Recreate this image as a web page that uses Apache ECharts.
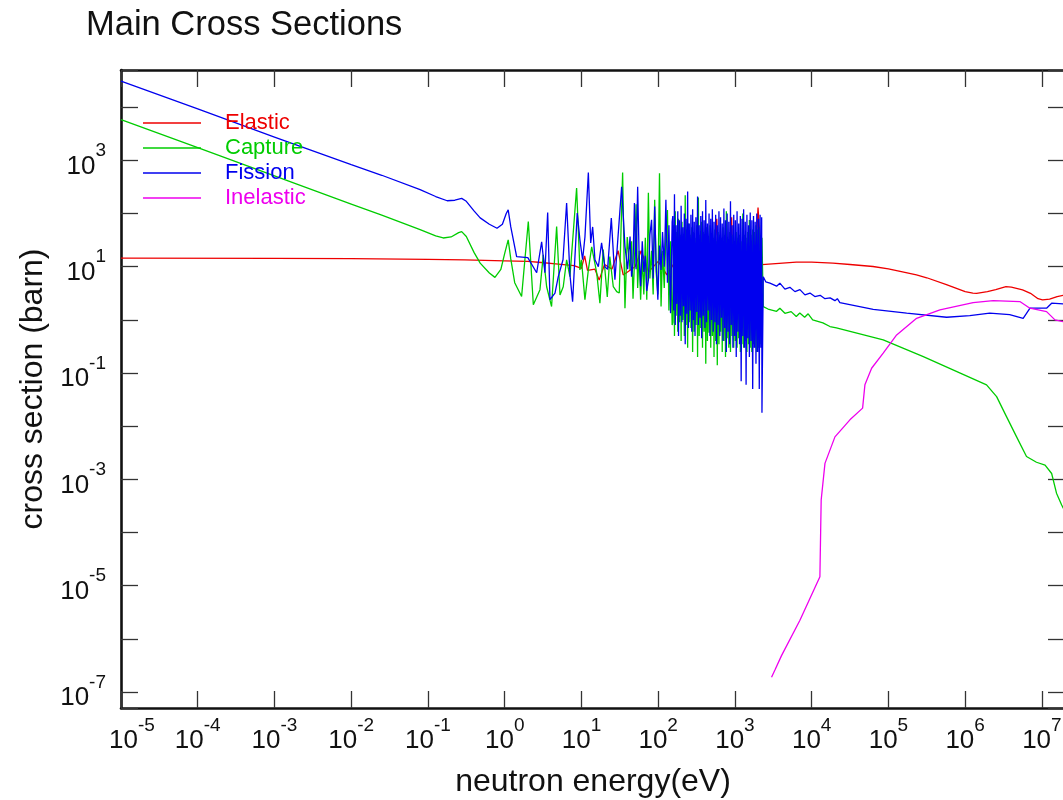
<!DOCTYPE html>
<html>
<head>
<meta charset="utf-8">
<title>Main Cross Sections</title>
<script src="https://cdn.jsdelivr.net/npm/echarts@6/dist/echarts.min.js"></script>
<style>
  html, body { margin: 0; padding: 0; background: #ffffff; }
  #main { width: 1063px; height: 800px; }
</style>
</head>
<body>
<div id="main"></div>
<script>
// energies in eV, cross sections in barn
var elasticE = [1e-5, 1e-3, 0.01, 0.1, 0.3, 1, 2, 3, 5, 8, 10, 11, 12, 15, 17, 20, 25, 30, 35, 50,
  60, 75, 100, 130, 180, 250, 330, 450, 560, 580, 600, 700, 880, 906, 930, 1200, 1500, 1900, 2000, 2100, 2250,
  2340, 6300, 10000, 18900, 31600, 63000, 1e5, 1.58e5, 2.32e5, 3.16e5, 5.7e5, 1e6, 1.26e6, 1.41e6, 1.95e6,
  2.5e6, 3.4e6, 4e6, 5.6e6, 7.1e6, 8.9e6, 1.02e7, 1.26e7, 1.58e7, 2e7];
var elasticXS = [14.5, 14.4, 14.2, 13.8, 13.5, 12.9, 12.6, 12.0, 11.2, 10.5, 9.3, 16, 8.5, 9, 5.6, 11, 9, 20, 7, 10,
  20, 8, 12.6, 7, 15, 9, 13, 8, 40, 80, 12, 10, 40, 85, 12, 10, 14, 30, 130, 40, 10.9,
  10.9, 12.2, 12.2, 11.7, 11.0, 10.1, 9.1, 7.9, 7.0, 6.2, 4.6, 3.4, 3.2, 3.15, 3.4,
  3.7, 4.24, 4.15, 3.67, 3.16, 2.5, 2.38, 2.45, 2.75, 2.95];

// thermal + first resonances, below 40 eV
var captureE = [1e-5, 1e-4, 1e-3, 0.01, 0.025, 0.079, 0.126, 0.158, 0.2, 0.251, 0.275, 0.316, 0.398, 0.479,
  0.631, 0.746, 0.891, 1.0, 1.11, 1.2, 1.35, 1.66, 2.03, 2.36, 2.88, 3.18, 3.52, 4.08, 4.75, 5.25, 5.79, 6.41,
  7.08, 8.65, 9.55, 10.0, 11.1, 12.3, 13.6, 15.8, 17.4, 19.2, 21.7, 23.4, 26.0, 28.8, 31.1, 34.4, 36.9, 39.5];
var captureXS = [5830, 1740, 513, 151, 93, 50, 38, 34.7, 36.3, 43.7, 45.7, 37, 18.6, 11.7,
  7.6, 6.3, 8.9, 17.8, 32, 14, 5, 2.75, 71, 1.92, 3.7, 16.7, 4.2, 1.78, 57, 2.95, 4.2, 13.5,
  6.5, 302, 8.7, 13.5, 2.4, 8.7, 23.7, 7.7, 2.06, 21, 2.7, 15.5, 4.2, 3.4, 3.2, 590, 1.66, 36];

var fissionE = [1e-5, 1e-4, 1e-3, 0.01, 0.025, 0.079, 0.126, 0.178, 0.224, 0.275, 0.316, 0.398, 0.479, 0.631,
  0.794, 0.933, 1.047, 1.11, 1.2, 1.43, 2.0, 2.61, 3.03, 3.34, 3.63, 3.89, 4.52, 4.99, 5.75, 6.41, 7.08, 7.67,
  8.81, 9.55, 10.35, 11.1, 12.3, 13.2, 14.0, 15.0, 16.6, 18.3, 20.2, 21.9, 24.5, 27.3, 30.9, 33.4, 36.9, 40.0];
var fissionXS = [31000, 9300, 2750, 830, 525, 282, 209, 174, 178, 193, 170, 112, 83, 63,
  53, 63, 100, 117, 56, 15.5, 14.8, 7.7, 29.5, 7.7, 105, 2.4, 3.2, 6.5, 13.5, 158, 7.1, 2.2,
  102, 32, 13.5, 36, 590, 28, 56, 13.5, 10, 28, 10, 8.9, 82, 5.7, 68, 320, 24, 9];

// crowded resonance region 43 eV - 2.25 keV, shared energy grid
var resE = [43, 45, 47, 49, 51.5, 54, 56.5, 59, 62, 65, 68, 71, 74.5, 78, 82, 86, 90, 94, 99, 104,
  109, 114, 120, 126, 132, 138, 145, 152,
  155, 159, 163, 167, 171, 175, 180, 184, 189, 194, 199, 204, 209, 214, 219, 225, 230, 236, 242, 248,
  254, 261, 267, 274, 281, 288, 295, 302, 310, 318, 326, 334, 342, 351, 359, 368, 378, 387, 397, 407,
  417, 427, 438, 449, 460, 472, 484, 496, 508, 521, 534, 547, 561, 575, 589, 604, 619, 635, 650, 667,
  683, 700, 718, 736, 754, 773, 792, 812, 832, 853, 875, 896, 919, 942, 965, 990, 1014, 1040, 1066, 1092,
  1120, 1148, 1176, 1206, 1236, 1267, 1298, 1331, 1364, 1398, 1433, 1469, 1506, 1543, 1582, 1621, 1662, 1704, 1746, 1790,
  1835, 1880, 1927, 1976, 2025, 2076, 2128, 2181, 2230, 2250];
var fissionRes = [37, 6.5, 12, 158, 9, 320, 15, 4.3, 30, 8, 16, 3.5, 5.6, 40, 76, 6, 135, 12, 2.4, 25,
  8.7, 45, 10, 182, 5, 60, 1.34, 70,
  90, 1.5, 230, 0.8, 60, 2.0, 110, 0.5, 75, 1.2, 140, 0.9, 55, 1.8, 100, 0.35, 80, 1.3, 260, 0.7,
  65, 1.5, 95, 0.6, 120, 1.0, 70, 0.5, 85, 1.4, 210, 0.8, 60, 1.1, 90, 0.45, 110, 1.2, 75, 0.7,
  180, 0.9, 65, 1.5, 100, 0.5, 80, 1.0, 120, 0.6, 70, 0.9, 95, 0.35, 60, 0.8, 110, 0.5, 85, 1.1,
  65, 0.4, 125, 0.7, 75, 0.25, 100, 0.6, 70, 0.35, 170, 0.8, 60, 0.3, 95, 0.5, 75, 0.2, 110, 0.6,
  65, 0.35, 90, 0.07, 80, 0.5, 120, 0.3, 70, 0.06, 95, 0.45, 60, 0.2, 105, 0.4, 75, 0.05, 90, 0.3,
  70, 0.15, 100, 0.25, 80, 0.05, 95, 0.3, 85, 0.018];
var captureRes = [8.7, 30, 2.5, 12, 150, 4, 20, 2.4, 15, 3, 35, 2.4, 245, 6, 20, 3, 182, 8, 3, 575,
  1.78, 20, 4, 40, 117, 1.5, 30, 0.8,
  0.9, 60, 0.5, 110, 1.2, 45, 0.6, 80, 0.9, 40, 0.4, 70, 1.0, 35, 0.5, 220, 0.8, 50, 0.3, 65,
  0.9, 40, 0.7, 55, 0.25, 45, 0.6, 35, 0.8, 60, 0.2, 200, 0.5, 40, 0.7, 70, 0.3, 45, 0.6, 35,
  0.15, 55, 0.4, 30, 0.57, 60, 0.3, 40, 0.5, 35, 0.2, 50, 0.4, 30, 0.14, 45, 0.35, 40, 0.6, 35,
  0.25, 55, 0.4, 40, 0.2, 110, 0.45, 30, 0.3, 45, 0.25, 35, 0.5, 40, 0.3, 30, 0.4, 45, 0.3, 35,
  0.45, 40, 0.25, 30, 0.35, 100, 0.3, 40, 0.4, 35, 0.25, 45, 0.35, 76, 0.3, 40, 0.25, 50, 0.35, 45,
  0.3, 60, 0.25, 50, 0.3, 55, 0.35, 40, 0.5, 35];

// unresolved + fast region
var fissionHighE = [2340, 2520, 2860, 3490, 3850, 4480, 5200, 6050, 7030, 8170, 9500, 11000, 12900, 14900, 17400,
  20100, 21600, 23300, 63400, 1.73e5, 5.73e5, 1.15e6, 2.09e6, 3.8e6, 5.7e6, 6.3e6, 7.0e6, 1.15e7, 1.34e7, 2e7];
var fissionHighXS = [6.5, 5.2, 4.9, 4.3, 4.9, 3.8, 4.1, 3.4, 3.7, 2.95, 3.2, 2.75, 2.9, 2.5, 2.6,
  2.3, 2.5, 2.12, 1.58, 1.34, 1.12, 1.2, 1.34, 1.26, 1.07, 1.32, 1.66, 1.66, 2.06, 2.0];
var captureHighE = [2340, 2700, 3490, 3850, 4480, 5400, 6300, 7000, 8100, 9000, 10300, 14000, 17300, 21000,
  85500, 2.85e5, 1.9e6, 2.57e6, 3.47e6, 4.68e6, 6.3e6, 8.5e6, 1.1e7, 1.34e7, 1.55e7, 1.81e7, 2e7];
var captureHighXS = [1.78, 1.6, 1.45, 1.66, 1.33, 1.43, 1.16, 1.35, 1.12, 1.3, 1.0, 0.88, 0.75, 0.71,
  0.42, 0.204, 0.06, 0.036, 0.015, 0.0063, 0.0027, 0.0021, 0.00186, 0.00129, 0.00055, 0.00033, 0.00025];

var inelasticE = [3000, 3320, 4060, 7030, 12800, 13100, 13300, 14900, 20100, 31500, 46100, 49400, 60400, 85500,
  1.28e5, 2.33e5, 4.69e5, 1.27e6, 2.32e6, 5.16e6, 6.98e6, 1.15e7, 1.48e7, 2e7];
var inelasticXS = [1.9e-7, 2.6e-7, 4.9e-7, 2.24e-6, 1.48e-5, 1.12e-4, 4.1e-4, 0.002, 0.0063, 0.0132, 0.0219, 0.06, 0.123, 0.236,
  0.52, 1.07, 1.54, 2.12, 2.31, 2.21, 1.66, 1.43, 1.0, 0.91];

var seriesNames = ['Elastic', 'Capture', 'Fission', 'Inelastic'];
var seriesColors = ['#ee0000', '#00cc00', '#0000ee', '#ee00ee'];

var FONT = 'Liberation Sans, Arial, sans-serif';

// plot on log10 of energy / cross section
function toPoints(es, xs) {
  return es.map(function (e, i) { return [Math.log10(e), Math.log10(xs[i])]; });
}

function powLabel(v, oddOnly) {
  var k = Math.round(v);
  if (Math.abs(v - k) > 1e-6) return '';
  if (oddOnly && k % 2 === 0) return '';
  var lead = (!oddOnly && k === -5) ? '{p| }' : '';
  return lead + '{b|10}{s|' + k + '}';
}

var richPow = {
  b: { fontSize: 26, lineHeight: 38, verticalAlign: 'bottom', color: '#111', fontFamily: FONT },
  s: { fontSize: 19, lineHeight: 19, verticalAlign: 'top', color: '#111', fontFamily: FONT },
  p: { width: 22, fontSize: 10 }
};

var tickStyle = { show: true, inside: true, length: 17, lineStyle: { color: '#333', width: 1.3 } };
var lineStyleAxis = { show: true, onZero: false, lineStyle: { color: '#111', width: 2.6 } };

var xMin = -5, xMax = Math.log10(2e7);
var yMin = -7.3, yMax = 4.7;

var lineData = [
  toPoints(elasticE, elasticXS),
  toPoints(captureE.concat(resE, captureHighE), captureXS.concat(captureRes, captureHighXS)),
  toPoints(fissionE.concat(resE, fissionHighE), fissionXS.concat(fissionRes, fissionHighXS)),
  toPoints(inelasticE, inelasticXS)
];

var option = {
  backgroundColor: '#ffffff',
  animation: false,
  title: {
    text: 'Main Cross Sections',
    left: 86,
    top: 8,
    padding: 0,
    textStyle: { fontSize: 34.5, fontWeight: 'normal', color: '#111', fontFamily: FONT }
  },
  legend: {
    orient: 'vertical',
    left: 143,
    top: 112,
    padding: 0,
    itemWidth: 58,
    itemHeight: 1.5,
    itemGap: 3,
    icon: 'rect',
    textStyle: { fontSize: 22, lineHeight: 22, fontFamily: FONT, padding: [0, 0, 0, 19] },
    data: seriesNames.map(function (n, i) {
      return { name: n, textStyle: { color: seriesColors[i] } };
    })
  },
  grid: { left: 121, right: -2, top: 70, bottom: 92, outerBoundsMode: 'none', containLabel: false },
  xAxis: [
    {
      type: 'value', min: xMin, max: xMax, interval: 1, position: 'bottom',
      name: 'neutron energy(eV)', nameLocation: 'middle', nameGap: 58,
      nameTextStyle: { fontSize: 32, color: '#111', fontFamily: FONT },
      axisLine: lineStyleAxis, axisTick: tickStyle, splitLine: { show: false },
      axisLabel: {
        margin: 8,
        formatter: function (v) { return powLabel(v, false); },
        rich: richPow
      }
    },
    {
      type: 'value', min: xMin, max: xMax, interval: 1, position: 'top',
      axisLine: lineStyleAxis, axisTick: tickStyle, splitLine: { show: false },
      axisLabel: { show: false }
    }
  ],
  yAxis: [
    {
      type: 'value', min: yMin, max: yMax, splitNumber: 12, position: 'left',
      name: 'cross section (barn)', nameLocation: 'middle', nameGap: 70,
      nameTextStyle: { fontSize: 32, color: '#111', fontFamily: FONT },
      axisLine: lineStyleAxis, axisTick: tickStyle, splitLine: { show: false },
      axisLabel: {
        margin: 15,
        formatter: function (v) { return powLabel(v, true); },
        rich: richPow
      }
    },
    {
      type: 'value', min: yMin, max: yMax, splitNumber: 12, position: 'right',
      axisLine: lineStyleAxis, axisTick: tickStyle, splitLine: { show: false },
      axisLabel: { show: false }
    }
  ],
  series: seriesNames.map(function (n, i) {
    return {
      name: n,
      type: 'line',
      xAxisIndex: 0,
      yAxisIndex: 0,
      data: lineData[i],
      symbol: 'none',
      color: seriesColors[i],
      lineStyle: { width: 1.3, color: seriesColors[i] },
      clip: true
    };
  })
};

var myChart = echarts.init(document.getElementById('main'));
myChart.setOption(option);
</script>
</body>
</html>
